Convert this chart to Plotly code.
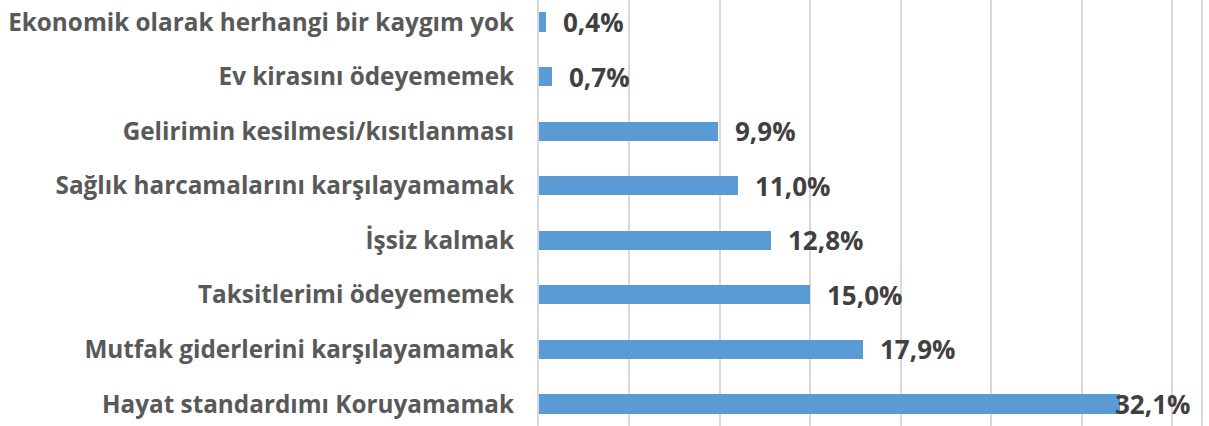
import plotly.graph_objects as go

categories = [
    "Hayat standardımı Koruyamamak",
    "Mutfak giderlerini karşılayamamak",
    "Taksitlerimi ödeyememek",
    "İşsiz kalmak",
    "Sağlık harcamalarını karşılayamamak",
    "Gelirimin kesilmesi/kısıtlanması",
    "Ev kirasını ödeyememek",
    "Ekonomik olarak herhangi bir kaygım yok",
]
values = [32.1, 17.9, 15.0, 12.8, 11.0, 9.9, 0.7, 0.4]
labels = ["32,1%", "17,9%", "15,0%", "12,8%", "11,0%", "9,9%", "0,7%", "0,4%"]

FONT = "Open Sans"
X_MAX = 36.6

fig = go.Figure()
fig.add_trace(go.Bar(
    y=categories,
    x=values,
    orientation="h",
    marker=dict(color="#5B9BD5", line=dict(width=0)),
    width=0.35,
    hoverinfo="skip",
))

for cat, v, lab in zip(categories, values, labels):
    shift = 15 if v < 30 else -7
    fig.add_annotation(
        x=v, y=cat, xref="x", yref="y",
        text=lab, showarrow=False,
        xanchor="left", yanchor="middle",
        xshift=shift, yshift=0,
        font=dict(family=FONT, size=26, color="#404040", weight="bold"),
    )

fig.update_layout(
    width=1209, height=426,
    margin=dict(l=539, r=8, t=0, b=0),
    plot_bgcolor="white", paper_bgcolor="white",
    showlegend=False,
    bargap=0,
)
fig.update_xaxes(
    range=[0, X_MAX],
    dtick=5, tick0=0,
    showgrid=True, gridcolor="#D9D9D9", gridwidth=2,
    showticklabels=False, zeroline=False, showline=False,
    fixedrange=True,
)
fig.update_yaxes(
    categoryorder="array", categoryarray=categories,
    range=[-0.403, 7.403],
    showgrid=False, zeroline=False,
    showline=True, mirror=True, linecolor="#D9D9D9", linewidth=2,
    ticks="", ticklabelstandoff=18,
    tickfont=dict(family=FONT, size=24.3, color="#595959", weight="bold"),
    fixedrange=True,
)

fig.write_html(
    "out.html",
    config={"displayModeBar": False},
    post_script="document.body.style.margin='0px';document.body.style.padding='0px';",
)
